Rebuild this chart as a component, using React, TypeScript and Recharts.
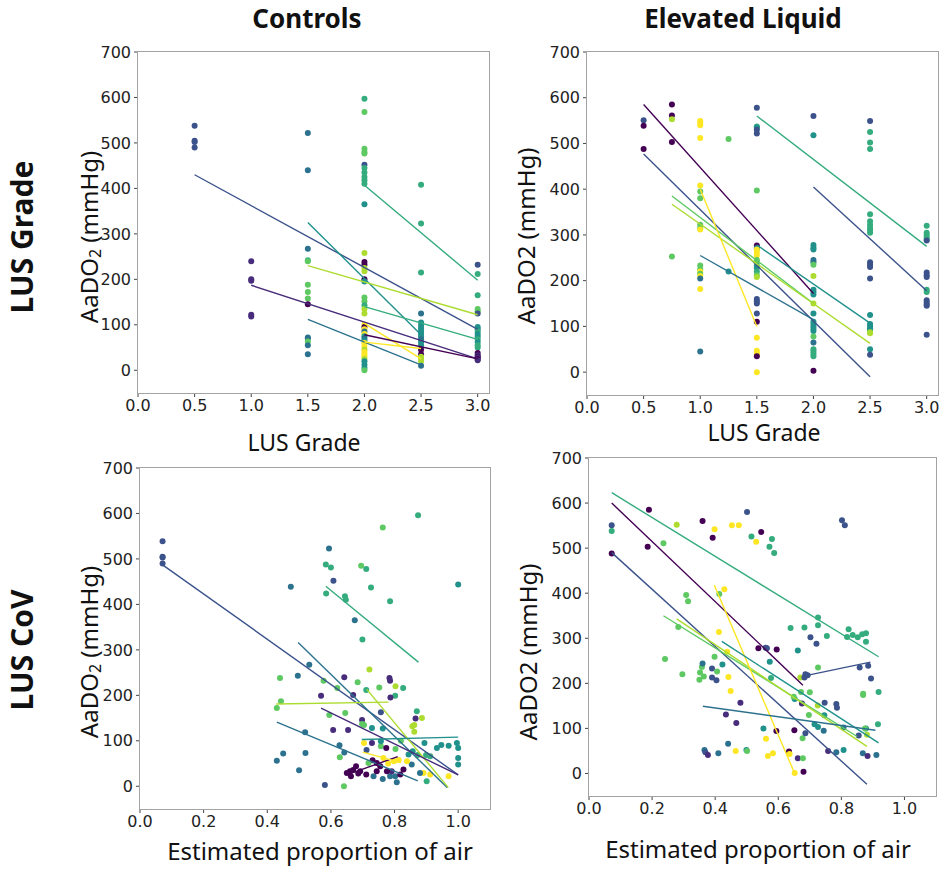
import React from 'react';
import { ScatterChart, Scatter, XAxis, YAxis } from 'recharts';

// viridis steps, indexed by patient group
const VIRIDIS = [
  '#440154', // 0 dark purple
  '#472d7b', // 1 purple
  '#3b528b', // 2 indigo
  '#2c728e', // 3 blue
  '#21918c', // 4 teal
  '#35ac7e', // 5 green-teal
  '#5ec962', // 6 green
  '#addc30', // 7 yellow-green
  '#fde725', // 8 yellow
];

type Pt = [number, number, number]; // group, x, y
type Seg = [number, number, number, number, number]; // group, x1, y1, x2, y2

const Y_TICKS = [0, 100, 200, 300, 400, 500, 600, 700];
const GRADE_TICKS = [0, 0.5, 1, 1.5, 2, 2.5, 3];
const AIR_TICKS = [0, 0.2, 0.4, 0.6, 0.8, 1];

// Controls, LUS grade
const controlsGradePts: Pt[] = [
  [2, 0.5, 538], [2, 0.5, 505], [2, 0.5, 502], [2, 0.5, 490],
  [1, 1, 240], [1, 1, 200], [1, 1, 197], [1, 1, 122], [1, 1, 118],
  [3, 1.5, 522], [3, 1.5, 440], [3, 1.5, 267], [5, 1.5, 242], [6, 1.5, 240], [6, 1.5, 188],
  [6, 1.5, 172], [6, 1.5, 158], [0, 1.5, 145], [3, 1.5, 72], [3, 1.5, 70], [6, 1.5, 63],
  [3, 1.5, 55], [3, 1.5, 35],
  [5, 2, 597], [6, 2, 568], [6, 2, 487], [6, 2, 480], [6, 2, 477], [2, 2, 452], [5, 2, 445],
  [5, 2, 435], [5, 2, 425], [5, 2, 418], [5, 2, 410], [4, 2, 365], [7, 2, 258], [0, 2, 238],
  [0, 2, 232], [7, 2, 225], [7, 2, 218], [0, 2, 200], [4, 2, 195], [6, 2, 160], [6, 2, 152],
  [5, 2, 143], [7, 2, 135], [7, 2, 125], [8, 2, 100], [0, 2, 95], [8, 2, 90], [3, 2, 85],
  [8, 2, 80], [4, 2, 75], [3, 2, 70], [4, 2, 65], [8, 2, 60], [8, 2, 52], [7, 2, 45],
  [8, 2, 40], [8, 2, 35], [8, 2, 30], [7, 2, 25], [4, 2, 20], [4, 2, 12], [4, 2, 5], [6, 2, 0],
  [5, 2.5, 408], [5, 2.5, 323], [5, 2.5, 215], [3, 2.5, 125], [4, 2.5, 105], [4, 2.5, 98],
  [4, 2.5, 92], [4, 2.5, 86], [4, 2.5, 80], [4, 2.5, 74], [3, 2.5, 68], [4, 2.5, 62],
  [4, 2.5, 55], [0, 2.5, 45], [0, 2.5, 35], [7, 2.5, 30], [7, 2.5, 25], [7, 2.5, 20], [3, 2.5, 10],
  [2, 3, 232], [5, 3, 212], [5, 3, 165], [6, 3, 135], [6, 3, 130], [2, 3, 125], [4, 3, 95],
  [4, 3, 90], [5, 3, 85], [4, 3, 80], [4, 3, 74], [5, 3, 68], [4, 3, 62], [5, 3, 55],
  [5, 3, 50], [0, 3, 38], [1, 3, 33], [0, 3, 30], [1, 3, 28], [0, 3, 25], [1, 3, 22],
];

const controlsGradeFits: Seg[] = [
  [2, 0.5, 430, 3, 90],
  [1, 1, 187, 3, 25],
  [4, 1.5, 325, 2.5, 78],
  [7, 1.5, 230, 3, 122],
  [3, 1.5, 112, 2.5, 12],
  [5, 2, 407, 3, 198],
  [5, 2, 140, 3, 68],
  [8, 2, 103, 2.5, 25],
  [8, 2, 62, 2.5, 48],
  [0, 2, 78, 3, 25],
];

// Elevated liquid, LUS grade
const liquidGradePts: Pt[] = [
  [2, 0.5, 551], [0, 0.5, 539], [0, 0.5, 488],
  [0, 0.75, 585], [0, 0.75, 561], [7, 0.75, 553], [0, 0.75, 503], [6, 0.75, 253],
  [8, 1, 549], [8, 1, 545], [8, 1, 540], [8, 1, 512], [8, 1, 408], [6, 1, 395], [6, 1, 380],
  [6, 1, 322], [6, 1, 315], [8, 1, 312], [6, 1, 233], [6, 1, 225], [8, 1, 220], [6, 1, 215],
  [8, 1, 210], [3, 1, 205], [8, 1, 182], [3, 1, 45],
  [6, 1.25, 510], [4, 1.25, 220],
  [2, 1.5, 578], [5, 1.5, 537], [4, 1.5, 535], [2, 1.5, 530], [2, 1.5, 522], [6, 1.5, 397],
  [0, 1.5, 277], [2, 1.5, 272], [4, 1.5, 270], [8, 1.5, 268], [8, 1.5, 262], [8, 1.5, 255],
  [6, 1.5, 245], [6, 1.5, 240], [4, 1.5, 232], [4, 1.5, 228], [5, 1.5, 220], [6, 1.5, 212],
  [7, 1.5, 208], [2, 1.5, 160], [2, 1.5, 155], [2, 1.5, 150], [2, 1.5, 128], [0, 1.5, 110],
  [8, 1.5, 75], [8, 1.5, 47], [8, 1.5, 42], [8, 1.5, 38], [0, 1.5, 35], [8, 1.5, 0],
  [2, 2, 560], [4, 2, 518], [4, 2, 278], [4, 2, 272], [4, 2, 268], [3, 2, 245], [3, 2, 240],
  [6, 2, 235], [7, 2, 210], [4, 2, 180], [4, 2, 175], [4, 2, 170], [7, 2, 150], [4, 2, 128],
  [4, 2, 110], [4, 2, 105], [4, 2, 100], [4, 2, 95], [4, 2, 90], [6, 2, 78], [3, 2, 65],
  [5, 2, 50], [5, 2, 45], [5, 2, 40], [5, 2, 35], [0, 2, 3],
  [2, 2.5, 549], [5, 2.5, 525], [5, 2.5, 502], [5, 2.5, 488], [5, 2.5, 345], [5, 2.5, 330],
  [5, 2.5, 322], [5, 2.5, 315], [5, 2.5, 310], [5, 2.5, 305], [2, 2.5, 240], [2, 2.5, 235],
  [2, 2.5, 230], [2, 2.5, 205], [4, 2.5, 125], [4, 2.5, 105], [4, 2.5, 100], [4, 2.5, 95],
  [4, 2.5, 92], [7, 2.5, 87], [7, 2.5, 85], [4, 2.5, 50], [2, 2.5, 38],
  [5, 3, 320], [5, 3, 305], [5, 3, 300], [5, 3, 295], [5, 3, 290], [2, 3, 288], [2, 3, 218],
  [2, 3, 212], [2, 3, 208], [5, 3, 180], [5, 3, 175], [2, 3, 157], [2, 3, 152], [2, 3, 148],
  [2, 3, 145], [2, 3, 82],
];

const liquidGradeFits: Seg[] = [
  [0, 0.5, 585, 2, 172],
  [2, 0.5, 477, 2.5, -10],
  [6, 0.75, 385, 2, 150],
  [7, 0.75, 367, 2.5, 63],
  [8, 1, 400, 1.5, 100],
  [3, 1, 255, 2, 115],
  [5, 1.5, 560, 3, 275],
  [4, 1.5, 278, 2.5, 107],
  [2, 2, 405, 3, 178],
];

// Controls, estimated proportion of air
const controlsAirPts: Pt[] = [
  [2, 0.071, 539], [2, 0.071, 505], [2, 0.071, 503], [2, 0.071, 490],
  [3, 0.474, 439], [3, 0.594, 523], [2, 0.608, 452], [5, 0.584, 488], [5, 0.6, 481],
  [5, 0.585, 424], [5, 0.644, 418], [5, 0.647, 410], [6, 0.695, 485], [5, 0.711, 478],
  [5, 0.726, 437], [6, 0.763, 569], [5, 0.874, 596], [5, 0.786, 407], [4, 1.0, 444],
  [3, 0.675, 365], [5, 0.699, 323], [3, 0.532, 267], [3, 0.496, 243], [6, 0.44, 238],
  [6, 0.577, 232], [1, 0.642, 240], [7, 0.721, 257], [6, 0.684, 229], [5, 0.711, 212],
  [6, 0.752, 217], [1, 0.569, 199], [6, 0.62, 216], [1, 0.67, 201], [1, 0.784, 238],
  [1, 0.786, 232], [7, 0.803, 220], [5, 0.827, 216], [5, 0.802, 199], [1, 0.787, 195],
  [2, 0.757, 163], [5, 0.87, 165], [7, 0.886, 150], [7, 0.856, 132], [7, 0.862, 135],
  [7, 0.862, 120], [1, 0.866, 149], [6, 0.43, 172], [6, 0.443, 187], [6, 0.595, 157],
  [6, 0.645, 161], [3, 0.519, 119], [1, 0.607, 124], [1, 0.654, 124], [1, 0.698, 146],
  [6, 0.704, 135], [6, 0.698, 137], [4, 0.729, 128], [4, 0.763, 127], [3, 0.627, 90],
  [3, 0.642, 74], [6, 0.628, 64], [3, 0.43, 56], [3, 0.45, 72], [3, 0.52, 73], [3, 0.5, 35],
  [2, 0.581, 3], [6, 0.641, 0],
  [1, 0.729, 95], [8, 0.704, 95], [6, 0.757, 88], [0, 0.774, 84], [6, 0.803, 82],
  [4, 0.757, 99], [0, 0.731, 57], [0, 0.744, 51], [8, 0.765, 62], [8, 0.798, 55],
  [8, 0.813, 58], [4, 0.844, 70], [4, 0.857, 77], [5, 0.873, 69], [4, 0.894, 95],
  [5, 0.899, 69], [5, 0.912, 66], [4, 0.933, 84], [4, 0.947, 91], [4, 0.97, 89],
  [4, 0.996, 95], [4, 1.0, 84], [4, 1.0, 62], [4, 1.0, 48], [5, 0.901, 11], [8, 0.891, 29],
  [8, 0.912, 26], [8, 0.97, 22], [3, 0.88, 29], [3, 0.854, 48], [8, 0.839, 55], [3, 0.807, 9],
  [3, 0.763, 16], [3, 0.734, 22], [6, 0.718, 51], [3, 0.786, 22], [3, 0.802, 22],
  [0, 0.818, 26], [1, 0.791, 33], [0, 0.755, 44], [0, 0.692, 33], [0, 0.679, 44],
  [0, 0.663, 22], [0, 0.65, 29], [0, 0.711, 26], [0, 0.828, 37], [0, 0.744, 33],
  [0, 0.776, 33], [0, 0.67, 36], [0, 0.686, 28], [0, 0.66, 33], [8, 0.78, 50],
  [6, 0.82, 100], [2, 0.712, 80],
];

const controlsAirFits: Seg[] = [
  [2, 0.071, 487, 1.0, 25],
  [5, 0.584, 440, 0.875, 273],
  [3, 0.497, 316, 0.966, -3],
  [7, 0.713, 213, 0.969, -3],
  [7, 0.428, 181, 0.781, 185],
  [1, 0.569, 172, 1.0, 25],
  [3, 0.43, 141, 0.873, 12],
  [4, 0.697, 103, 1.0, 108],
  [0, 0.66, 28, 0.81, 65],
  [8, 0.7, 75, 0.82, 52],
];

// Elevated liquid, estimated proportion of air
const liquidAirPts: Pt[] = [
  [2, 0.072, 551], [5, 0.072, 538], [0, 0.072, 488], [0, 0.19, 585], [0, 0.186, 503],
  [6, 0.236, 511], [7, 0.278, 552], [0, 0.36, 560], [0, 0.392, 523], [8, 0.398, 542],
  [8, 0.453, 551], [8, 0.475, 551], [2, 0.501, 580], [5, 0.515, 526], [8, 0.53, 514],
  [0, 0.546, 536], [5, 0.58, 520], [5, 0.572, 503], [5, 0.587, 489], [2, 0.802, 562],
  [2, 0.811, 551], [6, 0.308, 396], [6, 0.314, 382], [6, 0.413, 398], [8, 0.429, 409],
  [8, 0.412, 314], [6, 0.283, 325], [6, 0.241, 254], [6, 0.296, 220], [6, 0.35, 208],
  [6, 0.352, 224], [6, 0.358, 236], [6, 0.364, 215], [3, 0.36, 244], [2, 0.39, 233],
  [2, 0.39, 213], [2, 0.404, 207], [4, 0.423, 242], [6, 0.398, 259], [6, 0.406, 226],
  [8, 0.438, 270], [8, 0.442, 214], [8, 0.449, 183], [1, 0.48, 157], [1, 0.434, 131],
  [1, 0.467, 112], [3, 0.441, 66], [8, 0.465, 50], [3, 0.41, 45], [3, 0.366, 52],
  [2, 0.369, 47], [1, 0.377, 41], [4, 0.499, 52], [6, 0.501, 50], [0, 0.537, 278],
  [2, 0.56, 279], [2, 0.564, 278], [0, 0.595, 275], [4, 0.573, 248], [5, 0.577, 212],
  [4, 0.553, 100], [8, 0.561, 77], [0, 0.594, 94], [8, 0.567, 39], [8, 0.583, 45],
  [0, 0.634, 49], [8, 0.636, 43], [5, 0.639, 323], [0, 0.651, 96], [8, 0.652, 1],
  [4, 0.662, 273], [1, 0.662, 34], [0, 0.68, 4], [6, 0.678, 34], [5, 0.683, 324],
  [7, 0.67, 213], [2, 0.683, 213], [2, 0.686, 220], [2, 0.693, 218], [1, 0.675, 155],
  [4, 0.652, 165], [6, 0.649, 170], [6, 0.672, 181], [6, 0.677, 78], [2, 0.686, 89],
  [6, 0.7, 180], [6, 0.697, 130], [2, 0.702, 302], [2, 0.721, 288], [5, 0.726, 346],
  [5, 0.726, 329], [6, 0.726, 235], [7, 0.725, 151], [4, 0.715, 109], [4, 0.726, 103],
  [3, 0.744, 95], [2, 0.747, 157], [4, 0.746, 129], [5, 0.754, 305], [1, 0.758, 50],
  [3, 0.784, 47], [2, 0.784, 154], [2, 0.786, 146], [4, 0.807, 52], [3, 0.807, 102],
  [5, 0.823, 320], [5, 0.818, 303], [5, 0.836, 307], [5, 0.852, 302], [5, 0.866, 309],
  [5, 0.878, 311], [5, 0.878, 292], [2, 0.858, 235], [2, 0.885, 239], [2, 0.894, 211],
  [6, 0.869, 177], [6, 0.869, 174], [2, 0.855, 84], [3, 0.868, 45], [4, 0.878, 100],
  [6, 0.875, 100], [7, 0.881, 86], [1, 0.883, 39], [3, 0.911, 41], [5, 0.916, 109],
  [5, 0.918, 181],
];

const liquidAirFits: Seg[] = [
  [5, 0.072, 623, 0.918, 259],
  [0, 0.072, 600, 0.678, 196],
  [2, 0.072, 490, 0.881, -24],
  [6, 0.236, 350, 0.85, 82],
  [7, 0.278, 343, 0.881, 60],
  [8, 0.397, 418, 0.652, 0],
  [4, 0.421, 293, 0.918, 68],
  [3, 0.361, 149, 0.908, 96],
  [2, 0.68, 216, 0.892, 247],
];

const TICK_FONT = { fontFamily: 'DejaVu Sans', fontSize: 16, fill: '#222' };
const LABEL_FONT = "'Noto Sans', sans-serif";

interface IBox { left: number; top: number; w: number; h: number }

interface IPanelProps {
  box: IBox;
  points: Pt[];
  fits: Seg[];
  xTicks: number[];
  xMax: number;
}

const Dot = (props: any) => {
  const { cx, cy, payload } = props;
  if (cx == null || cy == null) return <g />;
  return <circle cx={cx} cy={cy} r={3} fill={VIRIDIS[payload.g]} />;
};

const Panel: React.FC<IPanelProps> = ({ box, points, fits, xTicks, xMax }) => {
  const ML = 62, MT = 10, MB = 40, MR = 12;
  const data = points.map(([g, x, y]) => ({ g, x, y }));
  return (
    <div style={{ position: 'absolute', left: box.left - ML, top: box.top - MT }}>
      <ScatterChart
        width={box.w + ML + MR}
        height={box.h + MT + MB}
        margin={{ top: MT, right: MR, bottom: 0, left: 0 }}
      >
        <XAxis
          type="number"
          dataKey="x"
          domain={[0, xMax]}
          ticks={xTicks}
          allowDataOverflow
          height={MB}
          axisLine={false}
          tickSize={4}
          tickMargin={3}
          tickLine={{ stroke: '#444' }}
          tick={TICK_FONT}
          tickFormatter={(v: number) => v.toFixed(1)}
        />
        <YAxis
          type="number"
          dataKey="y"
          domain={[-50, 700]}
          ticks={Y_TICKS}
          allowDataOverflow
          width={ML}
          axisLine={false}
          tickSize={4}
          tickMargin={3}
          tickLine={{ stroke: '#444' }}
          tick={TICK_FONT}
        />
        <Scatter data={data} shape={Dot} isAnimationActive={false} />
        {fits.map(([g, x1, y1, x2, y2], i) => (
          <Scatter
            key={`fit-${i}`}
            data={[{ x: x1, y: y1 }, { x: x2, y: y2 }]}
            fill={VIRIDIS[g]}
            line={{ stroke: VIRIDIS[g], strokeWidth: 1.4 }}
            shape={() => <g />}
            isAnimationActive={false}
          />
        ))}
      </ScatterChart>
      <div
        style={{
          position: 'absolute',
          left: ML - 1,
          top: MT - 1,
          width: box.w + 2,
          height: box.h + 2,
          border: '1.5px solid #a3a3a3',
          boxSizing: 'border-box',
          pointerEvents: 'none',
        }}
      />
    </div>
  );
};

const AaDO2Sub: React.FC<{ x: number; y: number }> = ({ x, y }) => (
  <text
    transform={`translate(${x},${y}) rotate(-90)`}
    textAnchor="middle"
    dominantBaseline="central"
    fontFamily={LABEL_FONT}
    fontSize={24}
    fill="#111"
  >
    <tspan>AaDO</tspan>
    <tspan fontSize={16} dy={7}>2</tspan>
    <tspan dy={-7}> (mmHg)</tspan>
  </text>
);

const Label: React.FC<{ x: number; y: number; text: string; size: number; bold?: boolean; rotate?: boolean }> = ({
  x, y, text, size, bold, rotate,
}) => (
  <text
    transform={`translate(${x},${y})${rotate ? ' rotate(-90)' : ''}`}
    textAnchor="middle"
    dominantBaseline="central"
    fontFamily={LABEL_FONT}
    fontSize={size}
    fontWeight={bold ? 700 : 400}
    fill="#111"
  >
    {text}
  </text>
);

export default function App() {
  return (
    <div style={{ position: 'absolute', left: 0, top: 0, width: 945, height: 869, background: '#fff' }}>
      <Panel box={{ left: 138, top: 52, w: 351, h: 341 }} points={controlsGradePts} fits={controlsGradeFits} xTicks={GRADE_TICKS} xMax={3.1} />
      <Panel box={{ left: 587, top: 52, w: 351, h: 343 }} points={liquidGradePts} fits={liquidGradeFits} xTicks={GRADE_TICKS} xMax={3.1} />
      <Panel box={{ left: 140, top: 468, w: 350, h: 341 }} points={controlsAirPts} fits={controlsAirFits} xTicks={AIR_TICKS} xMax={1.1} />
      <Panel box={{ left: 589, top: 458, w: 347, h: 338 }} points={liquidAirPts} fits={liquidAirFits} xTicks={AIR_TICKS} xMax={1.1} />
      <svg width={945} height={869} style={{ position: 'absolute', left: 0, top: 0, pointerEvents: 'none' }}>
        <Label x={307} y={18} text="Controls" size={26} bold />
        <Label x={743} y={18} text="Elevated Liquid" size={26} bold />
        <Label x={21} y={237} text="LUS Grade" size={30} bold rotate />
        <Label x={21} y={650} text="LUS CoV" size={30} bold rotate />
        <AaDO2Sub x={88} y={237} />
        <Label x={525} y={236} text="AaDO2 (mmHg)" size={24} rotate />
        <AaDO2Sub x={88} y={652} />
        <Label x={527} y={652} text="AaDO2 (mmHg)" size={24} rotate />
        <Label x={304} y={442} text="LUS Grade" size={23} />
        <Label x={764} y={432} text="LUS Grade" size={23} />
        <Label x={320} y={850} text="Estimated proportion of air" size={24} />
        <Label x={758} y={848} text="Estimated proportion of air" size={24} />
      </svg>
    </div>
  );
}
